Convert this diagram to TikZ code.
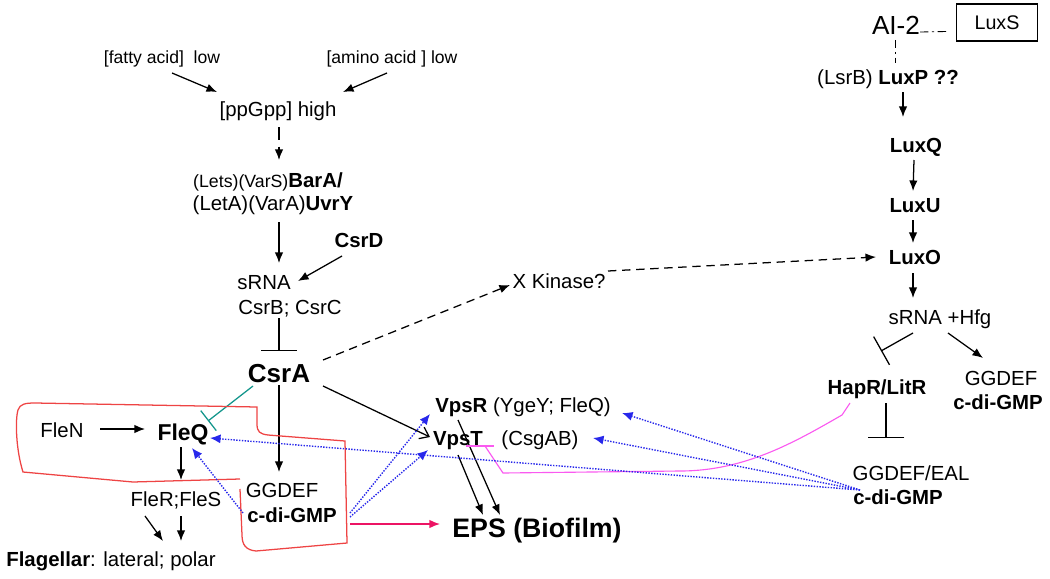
\documentclass[tikz,border=0pt]{standalone}
\usepackage{fontspec}
\setmainfont{Liberation Sans}
\usetikzlibrary{arrows.meta,calc}

\definecolor{outline}{RGB}{238,68,68}
\definecolor{epsred}{RGB}{236,20,100}
\definecolor{dotblue}{RGB}{40,40,235}
\definecolor{tealbar}{RGB}{20,150,140}
\definecolor{hapline}{RGB}{250,90,240}

\tikzset{
  lbl/.style={inner sep=3pt, text height=10.4pt, text depth=0pt, font=\fontsize{14.5}{17}\selectfont},
  gene/.style={lbl, font=\fontsize{14.5}{17}\selectfont\bfseries},
  lblsmall/.style={lbl, text height=9pt, font=\fontsize{12.5}{15}\selectfont},
  genebig/.style={lbl, text height=13.2pt, font=\fontsize{18.5}{22}\selectfont\bfseries},
  act/.style={-{Latex[length=7.5pt,width=6pt]}, line width=0.9pt},
  inhib/.style={-{Bar[width=#1]}, line width=0.9pt},
  inhib/.default=25pt,
  dashdot/.style={line width=0.6pt, dash pattern=on 6pt off 2.5pt on 1.5pt off 2.5pt},
  cdg/.style={-{Latex[length=7.5pt,width=6.5pt]}, dotblue, line width=1pt, dash pattern=on 1pt off 1pt},
}

\begin{document}
\begin{tikzpicture}[x=0.025cm, y=-0.025cm]
    \useasboundingbox (0,0) rectangle (1050,578);

    % stringent response and Bar/Uvr
    \node[lblsmall] (fatty) at (162,57) {[fatty acid]\ \ low};
    \node[lblsmall] (amino) at (392,57) {[amino acid ] low};
    \node[lbl] (ppgpp) at (278,109) {[ppGpp] high};
    \node[lbl] (barA) at (268,180) {{\fontsize{12.6}{15}\selectfont (Lets)(VarS)}\textbf{BarA/}};
    \node[lbl] (uvrY) at (273,203) {(LetA)(VarA)\textbf{UvrY}};
    \node[gene] (csrD) at (359,240) {CsrD};
    \node[lbl] (srna) at (264,282) {sRNA};
    \node[lbl] (csrBC) at (290,307) {CsrB; CsrC};
    \node[genebig] (csrA) at (279,373) {CsrA};
    \node[lbl] (xkin) at (559,281) {X Kinase?};

    \draw[act] ($(fatty)+(10,16)$) -- ($(ppgpp)+(-61,-17)$);
    \draw[act] ($(amino)+(-5,16)$) -- ($(ppgpp)+(65,-17)$);
    \draw[act, dash pattern=on 9pt off 5pt] ($(ppgpp)+(1,18)$) -- ($(barA)+(11,-20)$);
    \draw[act] ($(uvrY)+(6,19)$) -- ($(srna)+(15,-19)$);
    \draw[act] ($(csrD)+(-17,16)$) -- ($(srna)+(34,-1)$);
    \draw[inhib] ($(csrBC)+(-11,11)$) -- ($(csrA)+(0,-22)$);
    \draw[act, dash pattern=on 6pt off 4pt] ($(csrA)+(44,-13)$) -- ($(xkin)+(-49,4)$);

    % flagellar cascade
    \node[lbl] (fleN) at (62,430) {FleN};
    \node[lbl, text height=11.7pt, font=\fontsize{16.3}{19}\selectfont\bfseries] (fleQ) at (183,432) {FleQ};
    \node[lbl] (fleRS) at (176,499) {FleR;FleS};
    \node[lbl] (flag) at (111,559) {\textbf{Flagellar}: lateral; polar};
    \node[lbl] (ggdefA) at (282,490) {GGDEF};
    \node[gene] (cdgA) at (292,515) {c-di-GMP};

    \draw[act] ($(fleN)+(38,-1)$) -- ($(fleQ)+(-38,-3)$);
    \draw[act] ($(fleQ)+(-2,15)$) -- ($(fleRS)+(5,-19)$);
    \draw[act] ($(fleRS)+(-31,17)$) -- ($(flag)+(52,-18)$);
    \draw[act] ($(fleRS)+(5,17)$) -- ($(flag)+(70,-18)$);
    \draw[act] ($(csrA)+(0,12)$) -- ($(ggdefA)+(-3,-18)$);
    \draw[inhib=18pt, tealbar] ($(csrA)+(-26,13)$) -- ($(fleQ)+(25,-11)$);

    % red outline round FleQ and c-di-GMP
    \draw[outline, line width=0.9pt] (240,479) -- (133,482) -- (23,472)
        .. controls (16,450) and (15,420) .. (18,410)
        .. controls (20,404) and (25,403) .. (35,403) -- (257,407) -- (257,424)
        .. controls (257,432) and (260,434) .. (268,435) -- (345,441) -- (347,543)
        -- (256,551) .. controls (246,550) and (242,545) .. (242,535) -- (240,489);

    % Vps regulators and biofilm
    \node[lbl] (vpsR) at (523,405) {\textbf{VpsR} (YgeY; FleQ)};
    \node[gene] (vpsT) at (458,438) {VpsT};
    \node[lbl] (csgAB) at (540,438) {(CsgAB)};
    \node[lbl, text height=13.6pt, font=\fontsize{19}{22}\selectfont\bfseries] (eps) at (537,528) {EPS (Biofilm)};

    \draw[line width=0.9pt, -{Straight Barb[length=6pt,width=9pt]}] ($(csrA)+(44,13)$) -- ($(vpsT)+(-28,-1)$);
    \draw[act] ($(vpsR)+(-65,15)$) -- ($(eps)+(-37,-13)$);
    \draw[act] ($(vpsT)+(0,17)$) -- ($(eps)+(-54,-13)$);
    \draw[act, epsred] ($(cdgA)+(58,9)$) -- ($(eps)+(-97,-4)$);

    % quorum sensing column
    \node[lbl, text height=13.3pt, font=\fontsize{18.6}{22}\selectfont] (ai2) at (896,25) {AI-2};
    \node[draw, line width=0.8pt, inner sep=0pt, minimum width=57.6pt, minimum height=26.3pt,
          font=\fontsize{14}{17}\selectfont] (luxS) at (997,22.5) {LuxS};
    \node[lbl] (luxP) at (888,77) {(LsrB) \textbf{LuxP ??}};
    \node[gene] (luxQ) at (916,145) {LuxQ};
    \node[gene] (luxU) at (915,205) {LuxU};
    \node[gene] (luxO) at (915,257) {LuxO};
    \node[lbl] (srnaH) at (940,317) {sRNA +Hfg};
    \node[gene] (hapR) at (877,387) {HapR/LitR};
    \node[lbl] (ggdefB) at (1001,378) {GGDEF};
    \node[gene] (cdgB) at (998,402) {c-di-GMP};
    \node[lbl] (ggdefC) at (911,473) {GGDEF/EAL};
    \node[gene] (cdgC) at (898,497) {c-di-GMP};

    \draw[act, dash pattern=on 6pt off 4pt] ($(xkin)+(49,-10)$) -- ($(luxO)+(-39,0)$);
    \draw[dashdot] ($(ai2)+(24,7)$) -- ($(luxS)+(-50,9)$);
    \draw[dashdot] ($(ai2)+(-1,15)$) -- ($(luxP)+(7,-14)$);
    \draw[act] ($(luxP)+(15,15)$) -- ($(luxQ)+(-13,-28)$);
    \foreach \a/\b in {luxQ/luxU, luxU/luxO} {
        \draw[act] ($(\a)+(-2,15)$) -- ($(\b)+(-2,-14)$);
    };
    \draw[act] ($(luxO)+(-2,16)$) -- ($(srnaH)+(-27,-19)$);
    \draw[inhib=23pt] ($(srnaH)+(-27,16)$) -- ($(hapR)+(4,-36)$);
    \draw[act] ($(srnaH)+(8,16)$) -- ($(ggdefB)+(-18,-20)$);
    \draw[inhib=26pt] ($(hapR)+(9,16)$) -- ($(ggdefC)+(-25,-35)$);

    % HapR blocks VpsT
    \draw[hapline, line width=0.8pt] ($(hapR)+(-27,16)$) -- ($(hapR)+(-35,28)$)
        .. controls (795,442) and (745,471) .. (680,471) -- (503,473) -- ($(vpsT)+(27,8)$);
    \draw[hapline, line width=0.8pt] ($(vpsT)+(8,8)$) -- ($(vpsT)+(36,8)$);

    % c-di-GMP signals (dotted)
    \draw[cdg] ($(cdgA)+(-49,-2)$) -- ($(fleQ)+(9,16)$);
    \draw[cdg] ($(cdgA)+(58,-2)$) -- ($(vpsR)+(-93,9)$);
    \draw[cdg] ($(cdgA)+(58,2)$) -- ($(vpsT)+(-30,12)$);
    \foreach \t/\dx/\dy in {fleQ/27/6, vpsR/99/8, csgAB/53/0} {
        \draw[cdg] ($(cdgC)+(-38,-7)$) -- ($(\t)+(\dx,\dy)$);
    };
\end{tikzpicture}
\end{document}
